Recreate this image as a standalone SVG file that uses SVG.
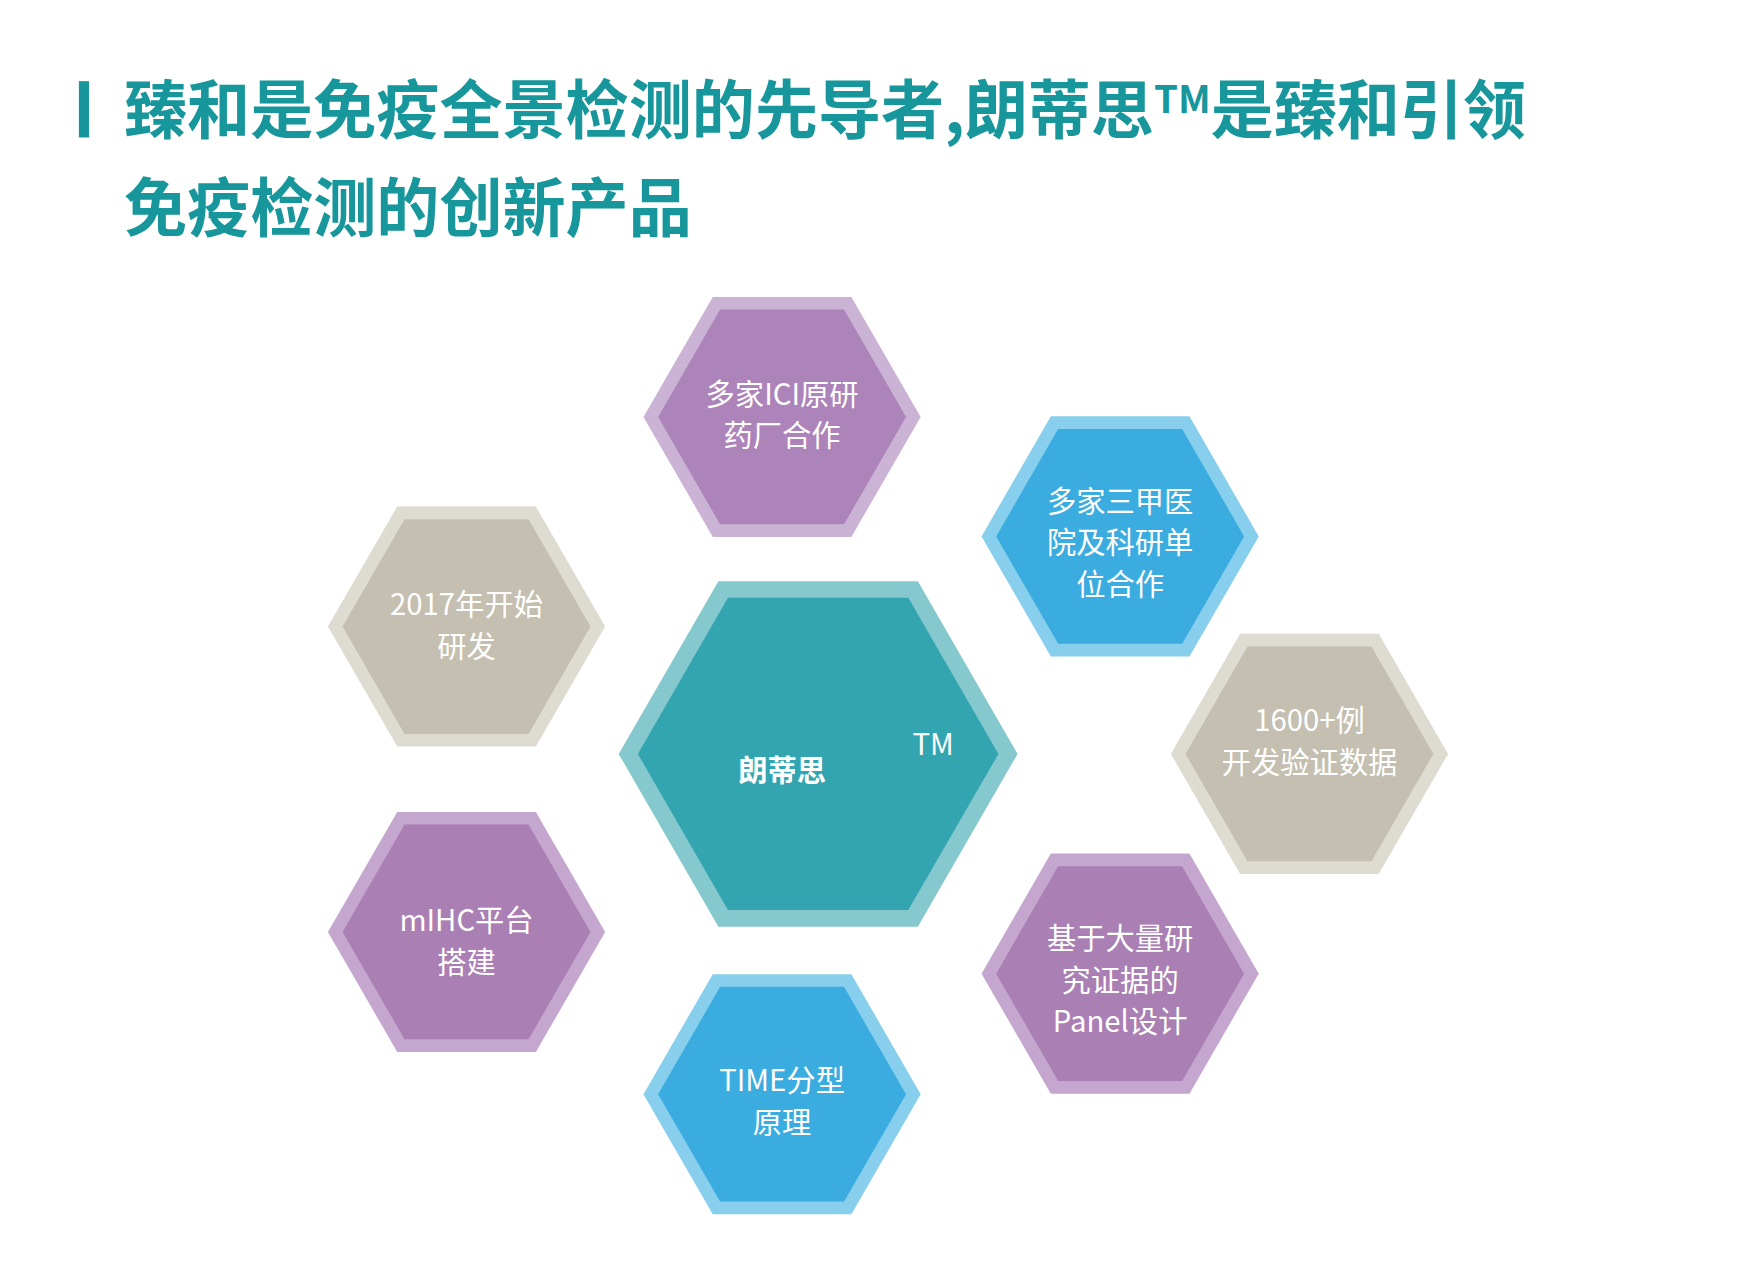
<svg xmlns="http://www.w3.org/2000/svg" width="1749" height="1277" viewBox="0 0 1749 1277">
<defs>
<style>
.t{font-family:"Noto Sans CJK SC","Noto Sans",sans-serif;fill:#fff;font-size:26px;text-anchor:middle}
.title{font-family:"Noto Sans CJK SC","Noto Sans",sans-serif;fill:#17979b;font-size:56px;font-weight:bold}
</style>
<polygon id="hx" points="-1,0 -0.5,-0.866 0.5,-0.866 1,0 0.5,0.866 -0.5,0.866"/>
</defs>
<rect width="1749" height="1277" fill="#fff"/>
<g transform="scale(1.1269)">
<g id="title">
<rect x="70" y="72" width="9" height="50" fill="#17979b"/>
<text class="title" x="110" y="118">臻和是免疫全景检测的先导者,朗蒂思<tspan font-size="34" dy="-18">TM</tspan><tspan dy="18">是臻和引领</tspan></text>
<text class="title" x="110" y="205">免疫检测的创新产品</text>
</g>
<g id="n-top"><use href="#hx" transform="translate(694,370) scale(123)" fill="#cbb3d5"/><use href="#hx" transform="translate(694,370) scale(110)" fill="#ad84b9"/>
<text class="t" x="694" y="359">多家ICI原研</text><text class="t" x="694" y="396">药厂合作</text></g>
<g id="n-hospital"><use href="#hx" transform="translate(994,476) scale(123)" fill="#88ceed"/><use href="#hx" transform="translate(994,476) scale(110)" fill="#3aace0"/>
<text class="t" x="994" y="454">多家三甲医</text><text class="t" x="994" y="491">院及科研单</text><text class="t" x="994" y="528">位合作</text></g>
<g id="n-2017"><use href="#hx" transform="translate(414,556) scale(123)" fill="#dedbd1"/><use href="#hx" transform="translate(414,556) scale(110)" fill="#c4bfb0"/>
<text class="t" x="414" y="546">2017年开始</text><text class="t" x="414" y="583">研发</text></g>
<g id="n-center"><use href="#hx" transform="translate(726,669) scale(177)" fill="#85c8cd"/><use href="#hx" transform="translate(726,669) scale(160)" fill="#33a5b0"/>
<text class="t" x="694" y="693" font-size="70" font-weight="bold">朗蒂思</text><text class="t" x="828" y="670" font-size="38">TM</text></g>
<g id="n-1600"><use href="#hx" transform="translate(1162,669) scale(123)" fill="#dedbd1"/><use href="#hx" transform="translate(1162,669) scale(110)" fill="#c4bfb0"/>
<text class="t" x="1162" y="649">1600+例</text><text class="t" x="1162" y="686">开发验证数据</text></g>
<g id="n-mihc"><use href="#hx" transform="translate(414,827) scale(123)" fill="#c4a6cf"/><use href="#hx" transform="translate(414,827) scale(110)" fill="#a97fb4"/>
<text class="t" x="414" y="826">mIHC平台</text><text class="t" x="414" y="863">搭建</text></g>
<g id="n-panel"><use href="#hx" transform="translate(994,864) scale(123)" fill="#c4a6cf"/><use href="#hx" transform="translate(994,864) scale(110)" fill="#a97fb4"/>
<text class="t" x="994" y="842">基于大量研</text><text class="t" x="994" y="879">究证据的</text><text class="t" x="994" y="916">Panel设计</text></g>
<g id="n-time"><use href="#hx" transform="translate(694,971) scale(123)" fill="#88ceed"/><use href="#hx" transform="translate(694,971) scale(110)" fill="#3aace0"/>
<text class="t" x="694" y="968">TIME分型</text><text class="t" x="694" y="1005">原理</text></g>
<g id="connectors"/>
</g>
</svg>
